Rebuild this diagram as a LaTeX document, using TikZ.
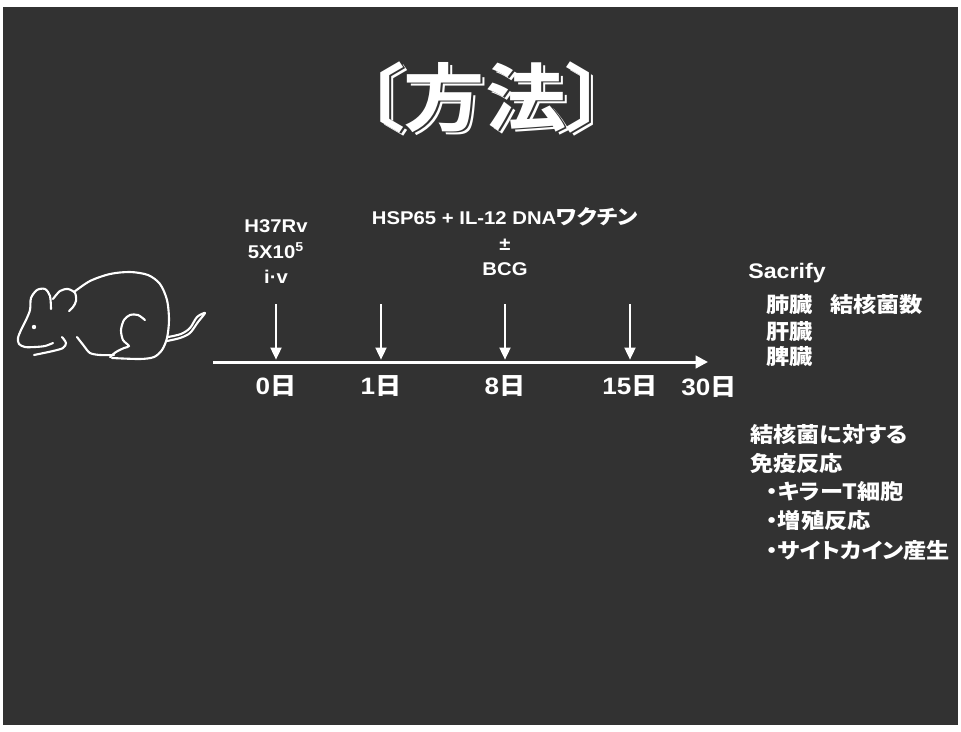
\documentclass[tikz,border=0pt]{standalone}
\usepackage{fontspec}
\setmainfont{Liberation Sans}[FakeStretch=1.1]
\newfontfamily\jpfont{Noto Sans CJK JP Bold}[FakeStretch=1.1, RawFeature=+palt]
\usetikzlibrary{arrows.meta}

\definecolor{slidebg}{RGB}{50,50,50}
\newcommand{\ja}[1]{{\jpfont #1}}

\begin{document}
\begin{tikzpicture}[x=0.02cm, y=-0.02cm,
    every node/.style={text=white, inner sep=0pt},
    title/.style={font=\jpfont\fontsize{42}{42}\selectfont},
    dose/.style={font=\bfseries\fontsize{10.5}{14.5}\selectfont, align=center},
    daylabel/.style={font=\bfseries\fontsize{13.5}{15}\selectfont},
    note/.style={font=\bfseries\fontsize{12}{14}\selectfont, anchor=west},
    dayarrow/.style={white, line width=1.7pt, -{Triangle[width=6pt,length=7pt]}},
    mouse/.style={white, line width=1.2pt, line cap=round, line join=round}]

    \fill[white] (0,0) rectangle (961,731);
    \fill[slidebg] (3,7) rectangle (958,725);

    % Title with offset rim
    \node[title] (titleshade) at (489,100) {〔方法〕};
    \node[title, text=slidebg] (titlegap) at (487,98.5) {〔方法〕};
    \node[title] (title) at (485,97) {〔方法〕};

    % Mouse
    \draw[mouse] plot[smooth] coordinates {(51,309) (50,296) (45,289) (37,290) (31,298) (30,310) (26,320) (21,330) (18,338) (19,344) (25,347) (35,347) (45,346) (53,343)};
    \draw[mouse] plot[smooth] coordinates {(53,299) (60,291) (68,289) (75,293) (76,301) (73,307) (69,311)};
    \draw[mouse] plot[smooth] coordinates {(74,292) (90,281) (110,274) (130,272) (148,275) (160,284) (167,300) (169,320) (167,338) (162,350) (154,357) (140,359) (112,358)};
    \fill[white] (34,327) circle (2.2);
    % front legs
    \draw[mouse] plot[smooth] coordinates {(62,337) (66,343) (63,348) (53,351) (34,355)};
    \draw[mouse] plot[smooth] coordinates {(77,337) (84,346) (90,353) (100,355) (114,355)};
    % hind leg
    \draw[mouse] plot[smooth] coordinates {(145,320) (138,315) (130,315) (124,320) (121,330) (123,340) (129,346) (124,348) (116,352) (110,357)};
    % tail
    \draw[mouse] plot[smooth] coordinates {(167,341) (180,338) (190,333) (198,322) (205,313) (197,317) (190,328) (181,334) (168,337)};

    % Timeline
    \coordinate (axisL) at (213,362);
    \coordinate (axisR) at (708,362);
    \draw[white, line width=1.7pt, -{Triangle[width=7pt,length=7pt]}] (axisL) -- (axisR);

    \foreach \d/\xx in {0/276, 1/381, 8/505, 15/630} {
      \coordinate (top\d) at (\xx,304);
      \draw[dayarrow, shorten >=1.2pt] (top\d) -- (top\d |- axisL);
      \node[daylabel] (day\d) at (\xx,386) {\d\ja{日}};
    }
    \node[daylabel] (day30) at (709,387) {30\ja{日}};

    % Doses
    \node[dose] (strain) at (276,252) {H37Rv\\5X10\textsuperscript{5}\\i·v};
    \node[dose] (vaccine) at (505,242) {HSP65 + IL-12 DNA{\jpfont\fontsize{11.5}{14.5}\selectfont ワクチン}\\±\\BCG};

    % Read-outs
    \node[note] (sacrify) at (748,273) {Sacrify};
    \node[note] (lung) at (766,305) {\ja{肺臓}};
    \node[note] (count) at (830,305) {\ja{結核菌数}};
    \node[note] (liver) at (766,332) {\ja{肝臓}};
    \node[note] (spleen) at (766,357) {\ja{脾臓}};

    \node[note] (immune) at (750,435) {\ja{結核菌に対する}};
    \node[note] (response) at (750,463) {\ja{免疫反応}};
    \node[note] (killer) at (766,492) {\ja{・キラーT細胞}};
    \node[note] (prolif) at (766,520) {\ja{・増殖反応}};
    \node[note] (cytokine) at (766,550) {\ja{・サイトカイン産生}};
\end{tikzpicture}
\end{document}
